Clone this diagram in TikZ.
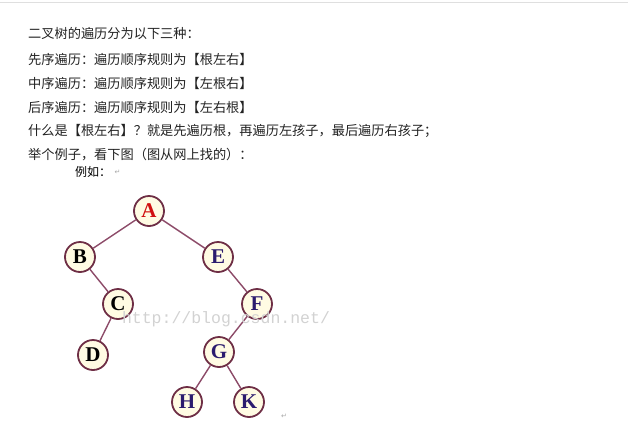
\documentclass[tikz,border=0pt]{standalone}
\usepackage{fontspec}
\setmainfont{Noto Sans CJK SC}
\newfontfamily\treefont{Liberation Serif}
\newfontfamily\markfont{DejaVu Sans}
\setmonofont{Liberation Mono}
\usetikzlibrary{positioning}
\definecolor{ringClr}{HTML}{6E2E45}
\definecolor{edgeClr}{HTML}{8C4A68}
\definecolor{nodeFill}{HTML}{FFFBE3}
\definecolor{txtClr}{HTML}{222222}
\definecolor{blueClr}{HTML}{2B1B6E}
\definecolor{redClr}{HTML}{D01010}

\begin{document}
\begin{tikzpicture}[x=1pt, y=-1pt,
    vertex/.style={circle, draw=ringClr, line width=1.8pt, fill=nodeFill, minimum size=30pt, inner sep=0pt, font=\treefont\bfseries\fontsize{21}{21}\selectfont},
    branch/.style={draw=edgeClr, line width=1.4pt},
    txt/.style={anchor=west, inner sep=0pt, text=txtClr, font=\fontsize{13.2}{13.2}\selectfont},
    retmark/.style={inner sep=0pt, text=gray!70, font=\markfont\fontsize{7}{7}\selectfont}]
\useasboundingbox (0,0) rectangle (628,437);
\draw[gray!25, line width=1pt] (0,2) -- (628,2);

% text
\node[txt] (l1) at (28,33) {二叉树的遍历分为以下三种：};
\node[txt] (l2) at (28,59) {先序遍历：遍历顺序规则为【根左右】};
\node[txt] (l3) at (28,83) {中序遍历：遍历顺序规则为【左根右】};
\node[txt] (l4) at (28,107) {后序遍历：遍历顺序规则为【左右根】};
\node[txt] (l5) at (28,131) {什么是【根左右】？就是先遍历根，再遍历左孩子，最后遍历右孩子；};
\node[txt] (l6) at (28,155) {举个例子，看下图（图从网上找的）：};
\node[txt, text=black, font=\fontsize{12}{12}\selectfont] (eg) at (75,172) {例如：};
\node[retmark, right=3pt of eg] (r1) {↵};

% tree
\node[vertex, text=redClr] (A) at (149,211) {A};
\node[vertex, text=black] (B) at (80,257) {B};
\node[vertex, text=blueClr] (E) at (218,257) {E};
\node[vertex, text=black] (C) at (118,304) {C};
\node[vertex, text=blueClr] (F) at (257,304) {F};
\node[vertex, text=black] (D) at (93,355) {D};
\node[vertex, text=blueClr] (G) at (219,352) {G};
\node[vertex, text=blueClr] (H) at (187,402) {H};
\node[vertex, text=blueClr] (K) at (249,402) {K};
\node[retmark] (r2) at (284,416) {↵};

\foreach \u/\v in {A/B, A/E, B/C, C/D, E/F, F/G, G/H, G/K}
  \path[branch] (\u) -- (\v);

\node[text=gray!35, font=\ttfamily\fontsize{16.5}{16.5}\selectfont, inner sep=0pt] (wm) at (226,319) {http://blog.csdn.net/};
\end{tikzpicture}
\end{document}
